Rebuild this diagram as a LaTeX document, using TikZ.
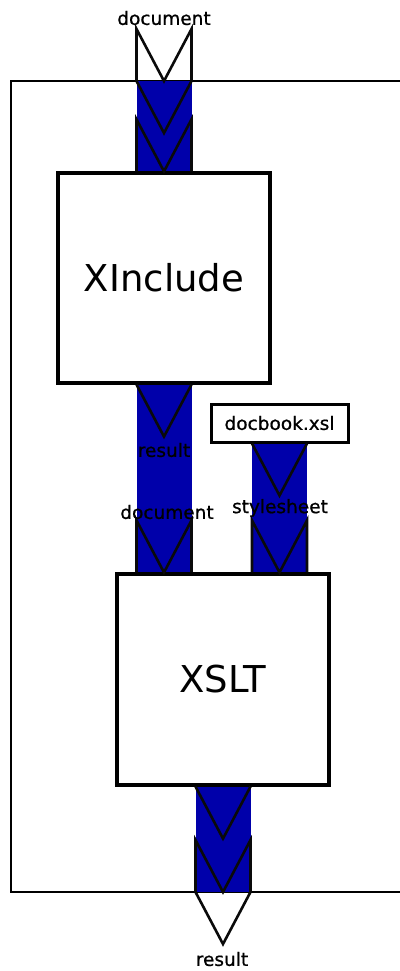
\documentclass[tikz,border=0pt]{standalone}
\usepackage{fontspec}
\setmainfont{DejaVu Sans}
\newfontfamily\portfont[FakeBold=0.8]{DejaVu Sans}
\usepackage{xcolor}
\definecolor{pipeblue}{RGB}{0,0,170}
\definecolor{portgray}{RGB}{10,10,10}

\tikzset{
  stepbox/.style={draw=black, line width=3.2pt, fill=white, inner sep=0pt, font=\fontsize{37}{44}\selectfont},
  filebox/.style={draw=black, line width=3pt, fill=white, inner sep=0pt, minimum width=137pt, minimum height=38pt, font=\portfont\fontsize{18.5}{22}\selectfont},
  frame/.style={draw=black, line width=2.8pt},
  band/.style={draw=pipeblue, line width=55pt},
  portline/.style={draw=portgray, line width=2.6pt, line join=miter},
  portlabel/.style={inner sep=0pt, font=\portfont\fontsize{18.5}{22}\selectfont},
  inport/.pic={\draw[portline] (-27.5,0) -- (-27.5,-52) -- (0,0) -- (27.5,-52) -- (27.5,0);},
  outport/.pic={\draw[portline] (-27.5,0) -- (0,52) -- (27.5,0);}
}

\begin{document}
\begin{tikzpicture}[x=1pt, y=-1pt]
    \useasboundingbox (0,0) rectangle (399,971);

    % Pipeline frame (right side runs off the page)
    \coordinate (frame-nw) at (11,81);
    \coordinate (frame-se) at (430,892);
    \draw[frame] (frame-nw) rectangle (frame-se);

    % Steps and the stylesheet file
    \node[stepbox, minimum width=212pt, minimum height=210pt] (xinc) at (164,278) {XInclude};
    \node[stepbox, minimum width=212pt, minimum height=211pt] (xslt) at (223,679.5) {XSLT};
    \node[filebox] (dbk) at (279.5,423) {docbook.xsl};

    % Connections between ports
    \draw[band] (xinc.north |- frame-nw) -- (xinc.north);
    \draw[band] (xinc.south) -- (xinc.south |- xslt.north);
    \draw[band] (dbk.south) -- (dbk.south |- xslt.north);
    \draw[band] (xslt.south) -- (xslt.south |- frame-se);

    % Pipeline input port
    \pic at (xinc.north |- frame-nw) {inport};
    \pic at (xinc.north |- frame-nw) {outport};
    \node[portlabel] (pipe-doc) at (164,18) {document};

    % XInclude ports
    \pic at (xinc.north) {inport};
    \pic at (xinc.south) {outport};
    \node[portlabel] (xinc-result) at (164,450) {result};

    % XSLT ports
    \pic at (dbk.south) {outport};
    \pic at (xinc.south |- xslt.north) {inport};
    \pic at (dbk.south |- xslt.north) {inport};
    \node[portlabel] (xslt-doc) at (167,512) {document};
    \node[portlabel] (xslt-style) at (280,508) {stylesheet};
    \pic at (xslt.south) {outport};

    % Pipeline output port
    \pic at (xslt.south |- frame-se) {inport};
    \pic at (xslt.south |- frame-se) {outport};
    \node[portlabel] (pipe-result) at (222,959) {result};
\end{tikzpicture}
\end{document}
